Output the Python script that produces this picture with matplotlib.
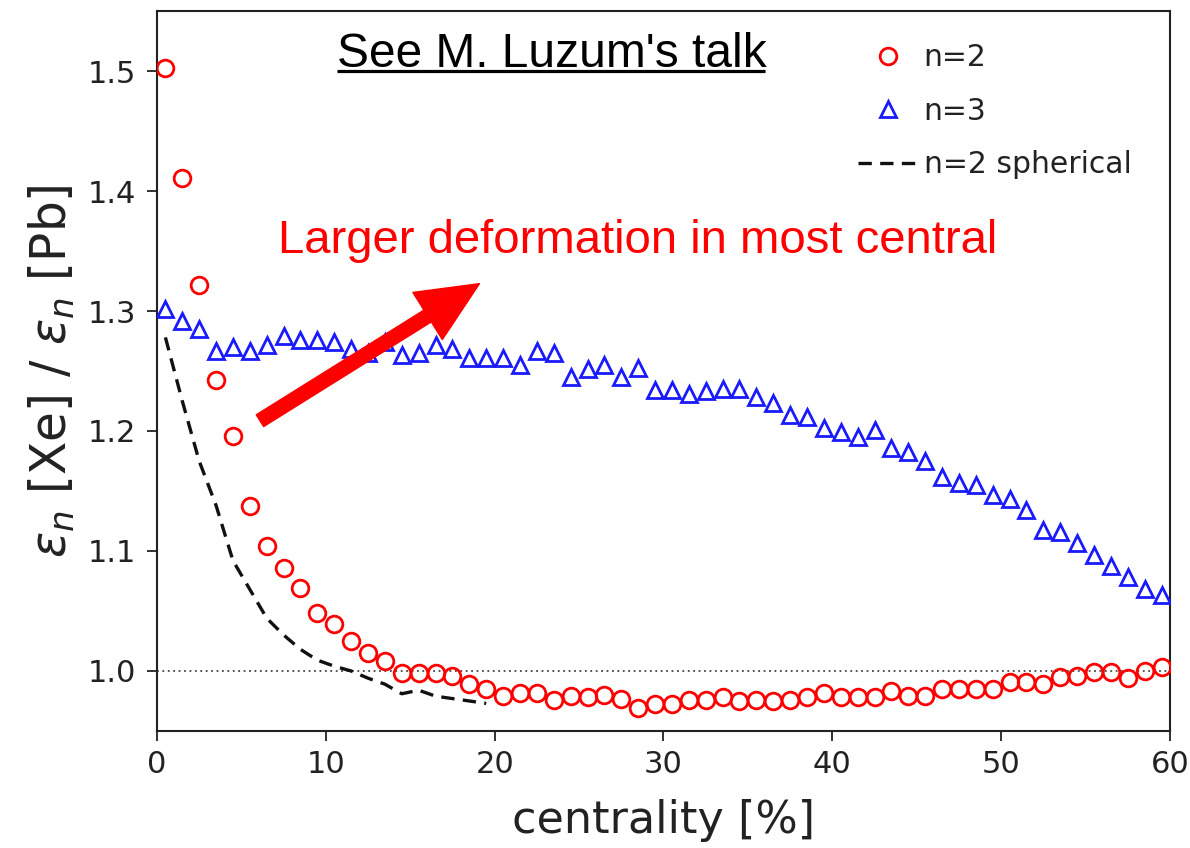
import numpy as np
import matplotlib
matplotlib.use("Agg")
import matplotlib.pyplot as plt

# centrality bins (bin centres, %)
centrality = np.arange(0.5, 60.0, 1.0)

# eps_2[Xe] / eps_2[Pb]
ratio_n2 = [
    1.5025, 1.411, 1.322, 1.2425, 1.1955, 1.1378, 1.1044, 1.0857, 1.0692, 1.0483,
    1.0392, 1.0247, 1.015, 1.0086, 0.9983, 0.9983, 0.9983, 0.996, 0.989, 0.985,
    0.9794, 0.9813, 0.9813, 0.9758, 0.9794, 0.978, 0.980, 0.9767, 0.969, 0.9725,
    0.9725, 0.9758, 0.9758, 0.978, 0.9747, 0.9758, 0.9747, 0.976, 0.978, 0.9813,
    0.978, 0.978, 0.978, 0.9836, 0.9794, 0.9794, 0.985, 0.985, 0.985, 0.985,
    0.9905, 0.9905, 0.989, 0.9947, 0.996, 0.9988, 0.9988, 0.9942, 1.0003, 1.003,
]

# eps_3[Xe] / eps_3[Pb]
ratio_n3 = [
    1.3017, 1.292, 1.285, 1.2669, 1.2697, 1.2663, 1.2719, 1.2794, 1.2758, 1.2758,
    1.2742, 1.2683, 1.2647, 1.2738, 1.2636, 1.2647, 1.2719, 1.268, 1.2608, 1.2608,
    1.2608, 1.2553, 1.2663, 1.2647, 1.2453, 1.2513, 1.2547, 1.2453, 1.2525, 1.2342,
    1.2342, 1.2308, 1.2336, 1.2347, 1.2347, 1.2286, 1.223, 1.2136, 1.212, 1.2025,
    1.1992, 1.1953, 1.2008, 1.1858, 1.1825, 1.1747, 1.1619, 1.1563, 1.1547, 1.1469,
    1.1436, 1.1342, 1.1175, 1.1158, 1.1063, 1.0969, 1.0875, 1.0786, 1.0686, 1.0636,
]

# spherical-Xe baseline for n=2
spherical_x = np.arange(0.5, 20.0, 1.0)
spherical_n2 = [
    1.278, 1.225, 1.175, 1.138, 1.092, 1.068, 1.044, 1.030, 1.018, 1.009,
    1.004, 1.000, 0.994, 0.989, 0.981, 0.984, 0.979, 0.977, 0.975, 0.973,
]

x_ticks = [0, 10, 20, 30, 40, 50, 60]
y_ticks = [1.0, 1.1, 1.2, 1.3, 1.4, 1.5]

fig = plt.figure(figsize=(11.9, 8.48), dpi=100)
ax = fig.add_axes([0.1319, 0.138, 0.9832 - 0.1319, 0.987 - 0.138])

ax.axhline(1.0, color="#444444", lw=1.3, ls=(0, (1, 2)), zorder=1)

ax.plot(centrality, ratio_n2, ls="none", marker="o", ms=12, mfc="none",
        mec="#ff0000", mew=2.0, label="n=2", zorder=3)
ax.plot(centrality, ratio_n3, ls="none", marker="^", ms=11.5, mfc="none",
        mec="#1a1aff", mew=2.0, label="n=3", zorder=3)
ax.plot(spherical_x, spherical_n2, color="#111111", ls=(0, (4, 2.5)), lw=2.4,
        label="n=2 spherical", zorder=2)

ax.set_xlim(0, 60)
ax.set_ylim(0.95, 1.55)
ax.set_xticks(x_ticks)
ax.set_xticklabels([str(t) for t in x_ticks])
ax.set_yticks(y_ticks)
ax.set_yticklabels([f"{t:.1f}" for t in y_ticks])
ax.tick_params(axis="both", labelsize=22, length=7, width=1.3,
               colors="#222222", direction="out")
ax.tick_params(axis="x", pad=7)
ax.tick_params(axis="y", pad=8)
for sp in ax.spines.values():
    sp.set_linewidth(1.5)
    sp.set_color("#222222")

ax.set_xlabel("centrality [%]", fontsize=32, color="#222222", labelpad=14)
ax.set_ylabel(r"$\varepsilon_n$ [Xe] / $\varepsilon_n$ [Pb]", fontsize=35,
              color="#222222", labelpad=8)

leg = ax.legend(loc="upper left", frameon=False, fontsize=21.5,
                handlelength=2.0, handletextpad=0.2, labelspacing=0.82,
                bbox_to_anchor=(0.692, 0.955), borderaxespad=0, borderpad=0)
for t in leg.get_texts():
    t.set_color("#222222")

ax.text(0.1774, 0.9226, "See M. Luzum's talk", transform=ax.transAxes,
        fontsize=34.5, family="Liberation Sans", color="black",
        ha="left", va="baseline")
ax.plot([0.1774, 0.6002], [0.9165, 0.9165], transform=ax.transAxes,
        color="black", lw=2.3, clip_on=False, solid_capstyle="butt")

ax.text(0.1198, 0.6635, "Larger deformation in most central",
        transform=ax.transAxes, fontsize=34, family="Liberation Sans",
        color="#ff0000", ha="left", va="baseline")

ax.annotate("", xy=(19.1, 1.3228), xytext=(6.1, 1.2086),
            arrowprops=dict(facecolor="#ff0000", edgecolor="#ff0000",
                            width=10, headwidth=40, headlength=44, shrink=0),
            zorder=5)

fig.savefig("out.png", dpi=100)
